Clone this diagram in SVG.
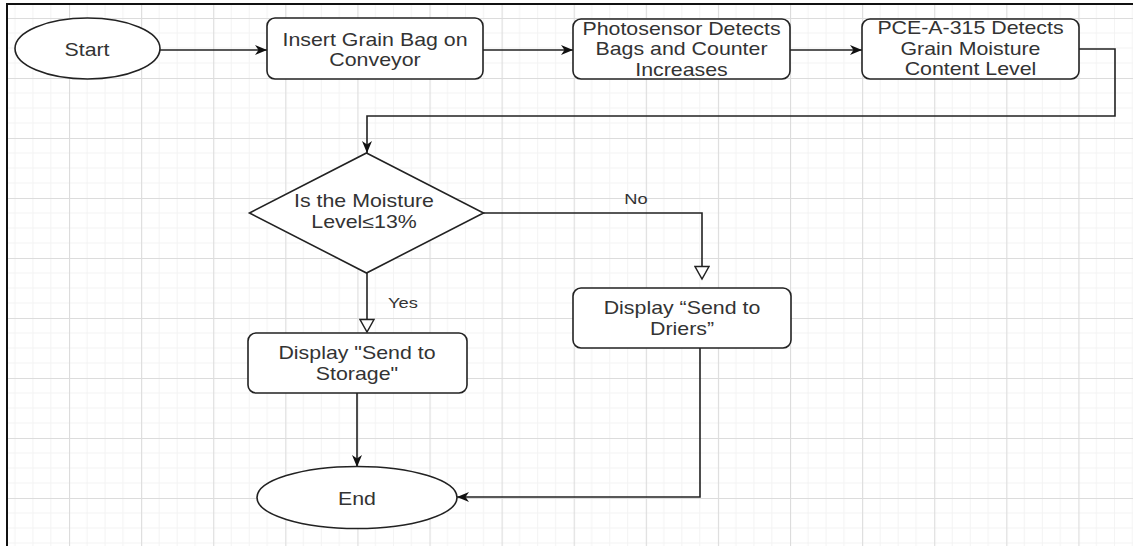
<svg xmlns="http://www.w3.org/2000/svg" width="1133" height="546" viewBox="0 0 1133 546">
<style>
.node{fill:#fff;stroke:#222;stroke-width:1.6}
.conn{fill:none;stroke:#222;stroke-width:1.6}
.t{font-family:"Liberation Sans",Arial,sans-serif;font-size:17.5px;fill:#333;text-anchor:middle}
.s{font-size:15px}
</style>
<defs>
<pattern id="grid" patternUnits="userSpaceOnUse" x="69" y="18" width="72.1" height="60">
<path d="M18,0V60M36,0V60M54,0V60M0,15H72.1M0,30H72.1M0,45H72.1" stroke="#f3f3f3" stroke-width="1" fill="none"/>
<path d="M0.5,0V60M0,0.5H72.1" stroke="#dcdcdc" stroke-width="1.2" fill="none"/>
</pattern>
<marker id="fa" markerUnits="userSpaceOnUse" markerWidth="13" markerHeight="11" refX="12" refY="5.5" orient="auto" viewBox="0 0 13 11">
<path d="M0,0.5 L12,5.5 L0,10.5 L3.5,5.5 Z" fill="#111"/>
</marker>
<marker id="oa" markerUnits="userSpaceOnUse" markerWidth="16" markerHeight="16" refX="14" refY="8" orient="auto" viewBox="0 0 16 16">
<path d="M1.5,1 L14,8 L1.5,15 Z" fill="#fff" stroke="#222" stroke-width="1.5"/>
</marker>
</defs>
<rect width="1133" height="546" fill="#fff"/>
<rect x="7" y="4" width="1126" height="542" fill="url(#grid)"/>
<path d="M6,4H1133M7,4V546" stroke="#111" stroke-width="2" fill="none"/>

<g id="connectors">
<path class="conn" d="M160,50H267" marker-end="url(#fa)"/>
<path class="conn" d="M483,50H573" marker-end="url(#fa)"/>
<path class="conn" d="M790,50H862" marker-end="url(#fa)"/>
<path class="conn" d="M1079,49H1115V116H367V153" marker-end="url(#fa)"/>
<path class="conn" d="M367,273V332" marker-end="url(#oa)"/>
<path class="conn" d="M483,213H702V279" marker-end="url(#oa)"/>
<path class="conn" d="M357,393V467" marker-end="url(#fa)"/>
<path class="conn" d="M700,348V497H457" marker-end="url(#fa)"/>
<text class="t s" transform="translate(403,0) scale(1.22,1)" x="0" y="308">Yes</text>
<text class="t s" transform="translate(636,0) scale(1.22,1)" x="0" y="204">No</text>
</g>

<g id="start">
<ellipse class="node" cx="87.5" cy="48.5" rx="72.5" ry="30.5"/>
<text class="t" transform="translate(87,0) scale(1.22,1)" x="0" y="56">Start</text>
</g>
<g id="insert">
<rect class="node" x="267" y="18" width="216" height="61" rx="8"/>
<text class="t" transform="translate(375,0) scale(1.22,1)"><tspan x="0" y="46">Insert Grain Bag on</tspan><tspan x="0" y="66">Conveyor</tspan></text>
</g>
<g id="photosensor">
<rect class="node" x="573" y="19" width="217" height="60" rx="8"/>
<text class="t" transform="translate(681.5,0) scale(1.22,1)"><tspan x="0" y="35">Photosensor Detects</tspan><tspan x="0" y="55.5">Bags and Counter</tspan><tspan x="0" y="76">Increases</tspan></text>
</g>
<g id="pce">
<rect class="node" x="862" y="19" width="217" height="60" rx="8"/>
<text class="t" transform="translate(970.5,0) scale(1.22,1)"><tspan x="0" y="34.5">PCE-A-315 Detects</tspan><tspan x="0" y="55">Grain Moisture</tspan><tspan x="0" y="75.5">Content Level</tspan></text>
</g>
<g id="decision">
<path class="node" d="M366.5,153L483.5,213L366.5,273L249.5,213Z"/>
<text class="t" transform="translate(364,0) scale(1.22,1)"><tspan x="0" y="207">Is the Moisture</tspan><tspan x="0" y="228">Level≤13%</tspan></text>
</g>
<g id="driers">
<rect class="node" x="573" y="288" width="218" height="60" rx="8"/>
<text class="t" transform="translate(682,0) scale(1.22,1)"><tspan x="0" y="314">Display “Send to</tspan><tspan x="0" y="335">Driers”</tspan></text>
</g>
<g id="storage">
<rect class="node" x="248" y="333" width="219" height="60" rx="8"/>
<text class="t" transform="translate(357,0) scale(1.22,1)"><tspan x="0" y="359">Display "Send to</tspan><tspan x="0" y="380">Storage"</tspan></text>
</g>
<g id="end">
<ellipse class="node" cx="357" cy="497.5" rx="100" ry="31"/>
<text class="t" transform="translate(357,0) scale(1.22,1)" x="0" y="505">End</text>
</g>
</svg>
